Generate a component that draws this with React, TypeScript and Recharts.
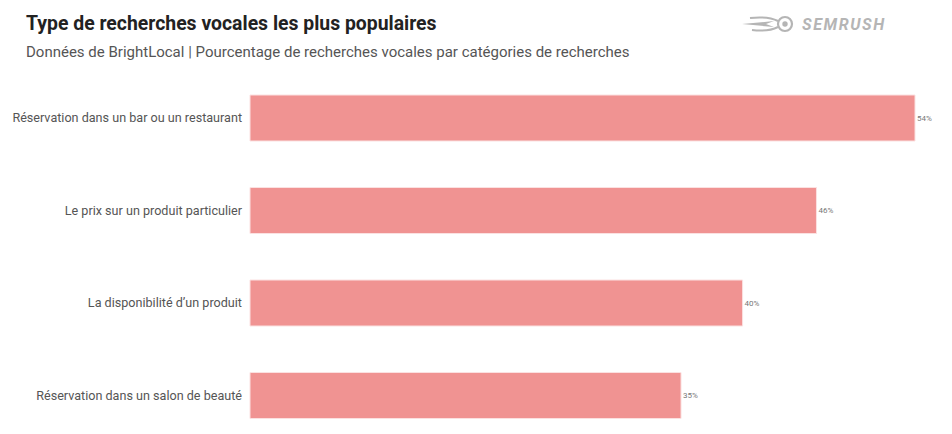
import React from "react";
import { Bar, BarChart, LabelList, XAxis, YAxis } from "recharts";

const categories = [
  "Réservation dans un bar ou un restaurant",
  "Le prix sur un produit particulier",
  "La disponibilité d’un produit",
  "Réservation dans un salon de beauté",
];
const shares = [54, 46, 40, 35];

const data = categories.map((name, i) => ({ name, value: shares[i] }));

const FONT = "Roboto, 'Noto Sans', sans-serif";

function CategoryTick(props: any) {
  const { x, y, payload } = props;
  return (
    <text x={x} y={y} dy={4} textAnchor="end" fontSize={12.6} fill="#555" fontFamily={FONT}>
      {payload.value}
    </text>
  );
}

function Logo() {
  return (
    <svg width={170} height={26} style={{ position: "absolute", left: 740, top: 11 }}>
      <path d="M2 13 L34 10 L26 13 L34 16 Z" fill="#b5b5b5" />
      <path d="M10 7 Q28 5 38 10 M12 19 Q28 21 38 16" stroke="#b5b5b5" strokeWidth={2} fill="none" />
      <circle cx={45} cy={13} r={7} fill="none" stroke="#b5b5b5" strokeWidth={2.2} />
      <circle cx={45} cy={13} r={2.7} fill="#b5b5b5" />
      <text x={62} y={19} fontSize={16} fontStyle="italic" fontWeight={700} fill="#b5b5b5" fontFamily={FONT} letterSpacing={1.6}>
        SEMRUSH
      </text>
    </svg>
  );
}

export default function App() {
  return (
    <div style={{ position: "relative", width: 952, height: 434, overflow: "hidden", background: "#fff" }}>
      <style>{"body{margin:0}"}</style>
      <div
        style={{
          position: "absolute",
          left: 26,
          top: 12,
          fontFamily: FONT,
          fontSize: 19.4,
          fontWeight: 700,
          color: "#222",
          whiteSpace: "nowrap",
        }}
      >
        Type de recherches vocales les plus populaires
      </div>
      <div
        style={{
          position: "absolute",
          left: 26,
          top: 43,
          fontFamily: FONT,
          fontSize: 15,
          color: "#555",
          whiteSpace: "nowrap",
        }}
      >
        Données de BrightLocal | Pourcentage de recherches vocales par catégories de recherches
      </div>
      <Logo />
      <div style={{ position: "absolute", left: 0, top: 0 }}>
        <BarChart
          width={952}
          height={452}
          data={data}
          layout="vertical"
          margin={{ top: 72, right: 37, bottom: 10, left: 0 }}
          barSize={46}
        >
          <XAxis type="number" domain={[0, 54]} hide />
          <YAxis
            type="category"
            dataKey="name"
            width={250}
            axisLine={false}
            tickLine={false}
            tick={<CategoryTick />}
          />
          <Bar dataKey="value" fill="#f09392" stroke="#fbe1e1" strokeWidth={1} isAnimationActive={false}>
            <LabelList
              dataKey="value"
              position="right"
              offset={2}
              formatter={(v: any) => `${v}%`}
              style={{ fontSize: 8, fill: "#777", fontFamily: FONT }}
            />
          </Bar>
        </BarChart>
      </div>
    </div>
  );
}
